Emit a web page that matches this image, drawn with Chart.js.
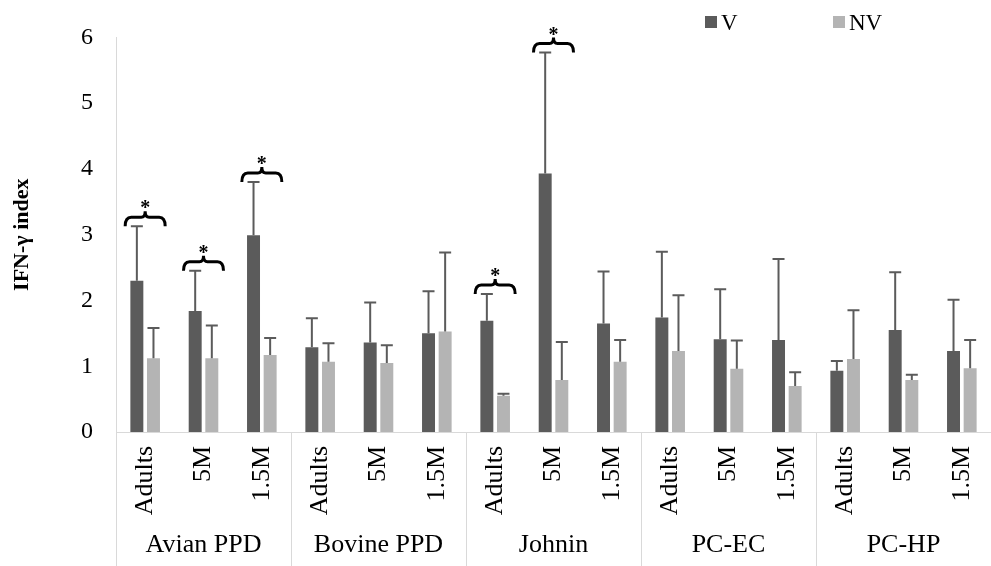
<!DOCTYPE html>
<html>
<head>
<meta charset="utf-8">
<script src="https://cdn.jsdelivr.net/npm/chart.js@4.4.1/dist/chart.umd.min.js"></script>
<style>
  html, body { margin: 0; padding: 0; background: #fff; }
  #wrap { width: 991px; height: 566px; }
</style>
</head>
<body>
<div id="wrap"><canvas id="chart" width="991" height="566"></canvas></div>
<script>
const groups = ['Avian PPD', 'Bovine PPD', 'Johnin', 'PC-EC', 'PC-HP'];
const ages = ['Adults', '5M', '1.5M'];
const categories = groups.flatMap(() => ages);

const vMean  = [2.30, 1.84, 2.99, 1.29, 1.36, 1.50, 1.69, 3.93, 1.65, 1.74, 1.41, 1.40, 0.93, 1.55, 1.23];
const vSd    = [0.83, 0.61, 0.81, 0.44, 0.61, 0.64, 0.41, 1.84, 0.79, 1.00, 0.76, 1.23, 0.15, 0.88, 0.78];
const nvMean = [1.12, 1.12, 1.17, 1.07, 1.05, 1.53, 0.55, 0.79, 1.07, 1.23, 0.96, 0.70, 1.11, 0.79, 0.97];
const nvSd   = [0.46, 0.50, 0.26, 0.28, 0.27, 1.20, 0.03, 0.58, 0.33, 0.85, 0.43, 0.21, 0.74, 0.08, 0.43];
// significant V vs NV difference (brace + asterisk)
const signif = [true, true, true, false, false, false, true, true, false, false, false, false, false, false, false];

const yTicks = [0, 1, 2, 3, 4, 5, 6];

const serif = 'Liberation Serif';
const lineGrey = '#d9d9d9';

// error bars, braces, group labels, separators, legend
const extras = {
  id: 'extras',
  afterDatasetsDraw(chart) {
    const ctx = chart.ctx;
    const y = chart.scales.y;
    const sds = [vSd, nvSd];
    ctx.save();
    ctx.strokeStyle = '#5b5b5b';
    ctx.lineWidth = 2;
    chart.data.datasets.forEach((ds, d) => {
      chart.getDatasetMeta(d).data.forEach((bar, i) => {
        const top = y.getPixelForValue(ds.data[i] + sds[d][i]);
        ctx.beginPath();
        ctx.moveTo(bar.x, bar.y);
        ctx.lineTo(bar.x, top);
        ctx.moveTo(bar.x - 6, top);
        ctx.lineTo(bar.x + 6, top);
        ctx.stroke();
      });
    });

    // braces
    const v = chart.getDatasetMeta(0).data;
    const nv = chart.getDatasetMeta(1).data;
    ctx.strokeStyle = '#000';
    ctx.fillStyle = '#000';
    ctx.lineWidth = 3;
    signif.forEach((s, i) => {
      if (!s) return;
      const ay = y.getPixelForValue(vMean[i] + vSd[i]);
      const cx = (v[i].x + nv[i].x) / 2;
      const L = cx - 20, R = cx + 20, h = 9, t = 6;
      ctx.beginPath();
      ctx.moveTo(L, ay);
      ctx.quadraticCurveTo(L, ay - h, L + 6, ay - h);
      ctx.lineTo(cx - 4, ay - h);
      ctx.quadraticCurveTo(cx, ay - h, cx, ay - h - t);
      ctx.quadraticCurveTo(cx, ay - h, cx + 4, ay - h);
      ctx.lineTo(R - 6, ay - h);
      ctx.quadraticCurveTo(R, ay - h, R, ay);
      ctx.stroke();
      ctx.font = 'bold 20px ' + serif;
      ctx.textAlign = 'center';
      ctx.textBaseline = 'alphabetic';
      ctx.fillText('*', cx, ay - 12);
    });
    ctx.restore();
  },
  afterDraw(chart) {
    const ctx = chart.ctx;
    const x = chart.scales.x;
    const area = chart.chartArea;
    const step = x.getPixelForValue(1) - x.getPixelForValue(0);
    ctx.save();
    ctx.strokeStyle = lineGrey;
    ctx.lineWidth = 1;
    for (let g = 0; g <= groups.length; g++) {
      const px = Math.round(x.getPixelForValue(g * 3) - step / 2) + 0.5;
      ctx.beginPath();
      ctx.moveTo(px, area.bottom);
      ctx.lineTo(px, chart.height);
      ctx.stroke();
    }
    ctx.fillStyle = '#000';
    ctx.font = '26px ' + serif;
    ctx.textAlign = 'center';
    ctx.textBaseline = 'middle';
    groups.forEach((g, k) => {
      const cx = (x.getPixelForValue(k * 3) + x.getPixelForValue(k * 3 + 2)) / 2;
      ctx.fillText(g, cx, 545);
    });

    // legend
    const items = [[705, 0], [833, 1]];
    ctx.font = '23px ' + serif;
    ctx.textAlign = 'left';
    ctx.textBaseline = 'alphabetic';
    items.forEach(([lx, d]) => {
      const ds = chart.data.datasets[d];
      ctx.fillStyle = ds.backgroundColor;
      ctx.fillRect(lx, 16, 12, 12);
      ctx.fillStyle = '#000';
      ctx.fillText(ds.label, lx + 16, 30);
    });
    ctx.restore();
  }
};

new Chart(document.getElementById('chart'), {
  type: 'bar',
  data: {
    labels: categories,
    datasets: [
      { label: 'V', data: vMean, backgroundColor: '#5b5b5b' },
      { label: 'NV', data: nvMean, backgroundColor: '#b4b4b4' }
    ]
  },
  options: {
    responsive: false,
    animation: false,
    devicePixelRatio: 1,
    categoryPercentage: 0.57,
    barPercentage: 0.78,
    layout: { padding: { top: 32, right: 0, left: 0, bottom: 0 } },
    plugins: {
      legend: { display: false },
      tooltip: { enabled: false }
    },
    scales: {
      x: {
        grid: { display: false, drawTicks: false },
        border: { display: true, color: lineGrey, width: 1 },
        ticks: {
          color: '#000',
          font: { family: serif, size: 26 },
          minRotation: 90,
          maxRotation: 90,
          autoSkip: false,
          padding: 14
        },
        afterFit(scale) {
          scale.height = 134;
          scale.paddingLeft = 0;
          scale.paddingRight = 0;
        }
      },
      y: {
        min: 0,
        max: 6,
        afterBuildTicks(scale) { scale.ticks = yTicks.map(v => ({ value: v })); },
        grid: { display: false, drawTicks: false },
        border: { display: true, color: lineGrey, width: 1 },
        ticks: {
          color: '#000',
          font: { family: serif, size: 24 },
          padding: 23
        },
        title: {
          display: true,
          text: 'IFN-γ index',
          color: '#000',
          font: { family: serif, size: 22, weight: 'bold' },
          padding: { top: 9, bottom: 0 }
        },
        afterFit(scale) { scale.width = 116; }
      }
    }
  },
  plugins: [extras]
});
</script>
</body>
</html>
